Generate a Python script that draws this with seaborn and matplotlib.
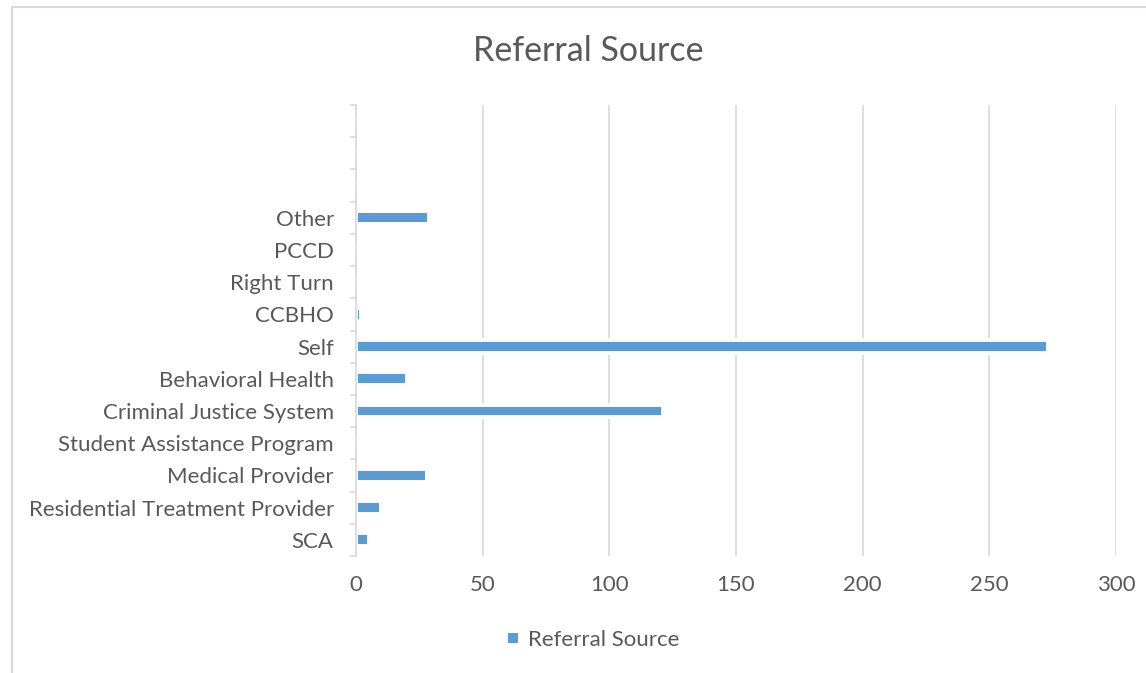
import numpy as np
import pandas as pd
import matplotlib
matplotlib.use("Agg")
import matplotlib.pyplot as plt
import matplotlib.patches as mpatches
import seaborn as sns

# Categories from top to bottom (first three slots are empty in the source chart)
categories = ["", " ", "  ", "Other", "PCCD", "Right Turn", "CCBHO", "Self",
              "Behavioral Health", "Criminal Justice System",
              "Student Assistance Program", "Medical Provider",
              "Residential Treatment Provider", "SCA"]
counts = [0, 0, 0, 29, 0, 0, 2, 273, 20, 121, 0, 28, 10, 5]
x_ticks = [0, 50, 100, 150, 200, 250, 300]
series_name = "Referral Source"

TEXT = "#595959"
GRID = "#D9D9D9"
BAR = "#5B9BD5"

sns.set_style("white")
plt.rcParams["font.family"] = ["Lato", "DejaVu Sans"]

df = pd.DataFrame({"category": categories, "count": counts})

fig = plt.figure(figsize=(11.46, 6.73), dpi=100)
ax = fig.add_axes([356 / 1146, 1 - 556 / 673, (1116 - 356) / 1146, (556 - 105) / 673])

sns.barplot(data=df, x="count", y="category", order=categories, orient="h",
            color=BAR, saturation=1, width=0.4, edgecolor="white", linewidth=2.8,
            ax=ax, zorder=2)

n = len(categories)
ax.set_xlim(0, 300)
ax.set_ylim(n - 0.5, -0.5)
ax.set_xticks(x_ticks)
ax.set_xticklabels([str(t) for t in x_ticks])
ax.set_yticks(np.arange(n + 1) - 0.5, labels=[""] * (n + 1))
ax.set_yticks(np.arange(n), labels=categories, minor=True)
ax.set_xlabel("")
ax.set_ylabel("")

ax.grid(axis="x", color=GRID, linewidth=1.2, zorder=0)
ax.set_axisbelow(True)
for side in ["top", "right", "bottom"]:
    ax.spines[side].set_visible(False)
ax.spines["left"].set_color(GRID)
ax.spines["left"].set_linewidth(1.2)
ax.spines["left"].set_zorder(3)

ax.tick_params(axis="y", which="major", length=4.5, width=1.2, color=GRID, left=True)
ax.tick_params(axis="y", which="minor", length=0, pad=16, labelsize=16, labelcolor=TEXT)
ax.tick_params(axis="x", length=0, pad=14, labelsize=16, labelcolor=TEXT)

fig.text(588 / 1146, 1 - 51 / 673, "Referral Source", ha="center", va="center",
         fontsize=24.5, color=TEXT)

handle = mpatches.Patch(facecolor=BAR, edgecolor="none", label=series_name)
fig.legend(handles=[handle], loc="center", bbox_to_anchor=(594 / 1146, 1 - 640 / 673),
           frameon=False, fontsize=16, handlelength=0.45, handleheight=0.36,
           handletextpad=0.45, labelcolor=TEXT)

# light chart border, cut off on the right and bottom as in the original
fig.patches.append(mpatches.Rectangle((12 / 1146, -0.1), 1.2, 1.1 - 7 / 673,
                                      transform=fig.transFigure, fill=False,
                                      edgecolor=GRID, linewidth=1.5))

fig.savefig("out.png", dpi=100)
